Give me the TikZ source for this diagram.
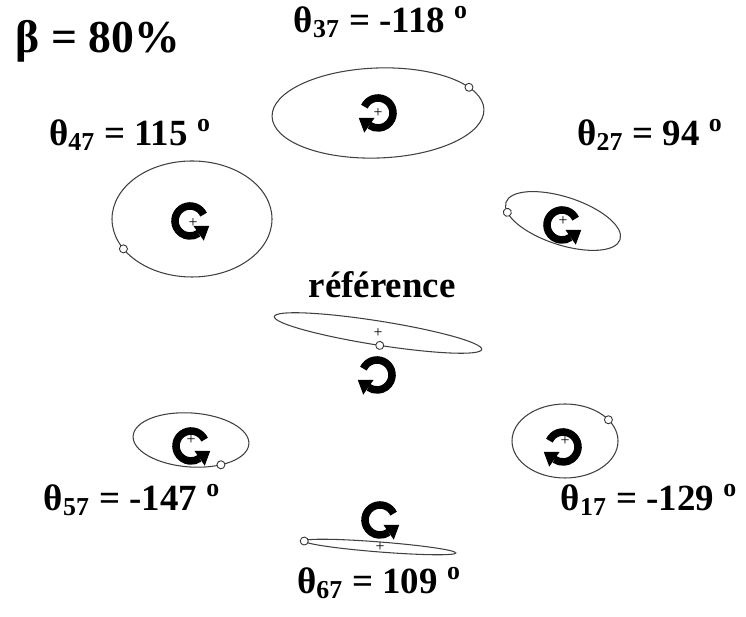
\documentclass[tikz,border=0pt]{standalone}
\usepackage{fontspec}
\setmainfont{Liberation Serif}
\usetikzlibrary{calc}

\tikzset{
  orbit/.style={draw=black!75, line width=0.6pt},
  marker/.style={draw=black!80, fill=white, line width=0.5pt},
  spin/.style={line width=4.3pt},
  angle label/.style={font=\fontsize{21}{25}\selectfont\bfseries},
  centre mark/.style={font=\fontsize{9}{9}\selectfont, inner sep=0pt},
}
% clockwise spin: gap on the left, head at lower left
\newcommand{\spincw}[1]{%
  \draw[spin] (#1) ++(155:15) arc[start angle=155, end angle=-125, radius=15] coordinate (headbase);
  \fill ($(headbase)+(55:9)$) -- ($(headbase)+(235:9)$) -- ($(headbase)+(145:13)$) -- cycle;}
% counter-clockwise spin: gap on the right, head at lower right
\newcommand{\spinccw}[1]{%
  \draw[spin] (#1) ++(25:15) arc[start angle=25, end angle=305, radius=15] coordinate (headbase);
  \fill ($(headbase)+(125:9)$) -- ($(headbase)+(-55:9)$) -- ($(headbase)+(35:13)$) -- cycle;}

\begin{document}
\begin{tikzpicture}[x=0.02cm, y=0.02cm]
\useasboundingbox (0,0) rectangle (746,617);

\coordinate (o3) at (378,504);
\coordinate (o4) at (192,398);
\coordinate (o2) at (563,396);
\coordinate (oref) at (378,284);
\coordinate (o5) at (191,177);
\coordinate (o1) at (565,176);
\coordinate (o6) at (380,70);

\node[font=\fontsize{26}{30}\selectfont\bfseries] (beta) at (98,576) {β = 80\%};
\node[angle label] (t37) at (381,595) {θ\textsubscript{37} = -118 \textsuperscript{o}};
\node[angle label] (t47) at (130,482) {θ\textsubscript{47} = 115 \textsuperscript{o}};
\node[angle label] (t27) at (650,482) {θ\textsubscript{27} = 94 \textsuperscript{o}};
\node[angle label] (ref) at (382,332) {référence};
\node[angle label] (t57) at (132,117) {θ\textsubscript{57} = -147 \textsuperscript{o}};
\node[angle label] (t17) at (649,117) {θ\textsubscript{17} = -129 \textsuperscript{o}};
\node[angle label] (t67) at (379,34) {θ\textsubscript{67} = 109 \textsuperscript{o}};

\draw[orbit, rotate around={2:(o3)}] (o3) ellipse [x radius=106, y radius=45];
\draw[orbit] (o4) ellipse [x radius=80, y radius=58];
\draw[orbit, rotate around={-18:(o2)}] (o2) ellipse [x radius=60, y radius=24];
\draw[orbit, rotate around={-9:(oref)}] (oref) ellipse [x radius=105, y radius=12];
\draw[orbit, rotate around={-4:(o5)}] (o5) ellipse [x radius=58, y radius=27];
\draw[orbit] (o1) ellipse [x radius=53, y radius=37];
\draw[orbit, rotate around={-4.5:(o6)}] (o6) ellipse [x radius=76, y radius=5];

\node[centre mark] (c3) at (o3) {+};
\node[centre mark] (c4) at ($(o4)+(1,-4)$) {+};
\node[centre mark] (c2) at (o2) {+};
\node[centre mark] (cref) at (oref) {+};
\node[centre mark] (c5) at (o5) {+};
\node[centre mark] (c1) at (o1) {+};
\node[centre mark] (c6) at (o6) {+};

\draw[marker, rotate around={2:(o3)}] (o3) ++(30:106 and 45) circle [radius=4];
\draw[marker] (o4) ++(211:80 and 58) circle [radius=4];
\draw[marker, rotate around={-18:(o2)}] (o2) ++(202:60 and 24) circle [radius=4];
\draw[marker, rotate around={-9:(oref)}] (oref) ++(272:105 and 12) circle [radius=4];
\draw[marker, rotate around={-4:(o5)}] (o5) ++(303:58 and 27) circle [radius=4];
\draw[marker] (o1) ++(35:53 and 37) circle [radius=4];
\draw[marker, rotate around={-4.5:(o6)}] (o6) ++(180:76 and 5) circle [radius=4];

\spincw{o3}
\spinccw{$(o4)+(-2,-2)$}
\spinccw{$(o2)+(-1,-4)$}
\spincw{$(oref)+(-1,-42)$}
\spinccw{$(o5)+(0,-6)$}
\spincw{$(o1)+(-2,-6)$}
\spinccw{$(o6)+(0,27)$}
\end{tikzpicture}
\end{document}
